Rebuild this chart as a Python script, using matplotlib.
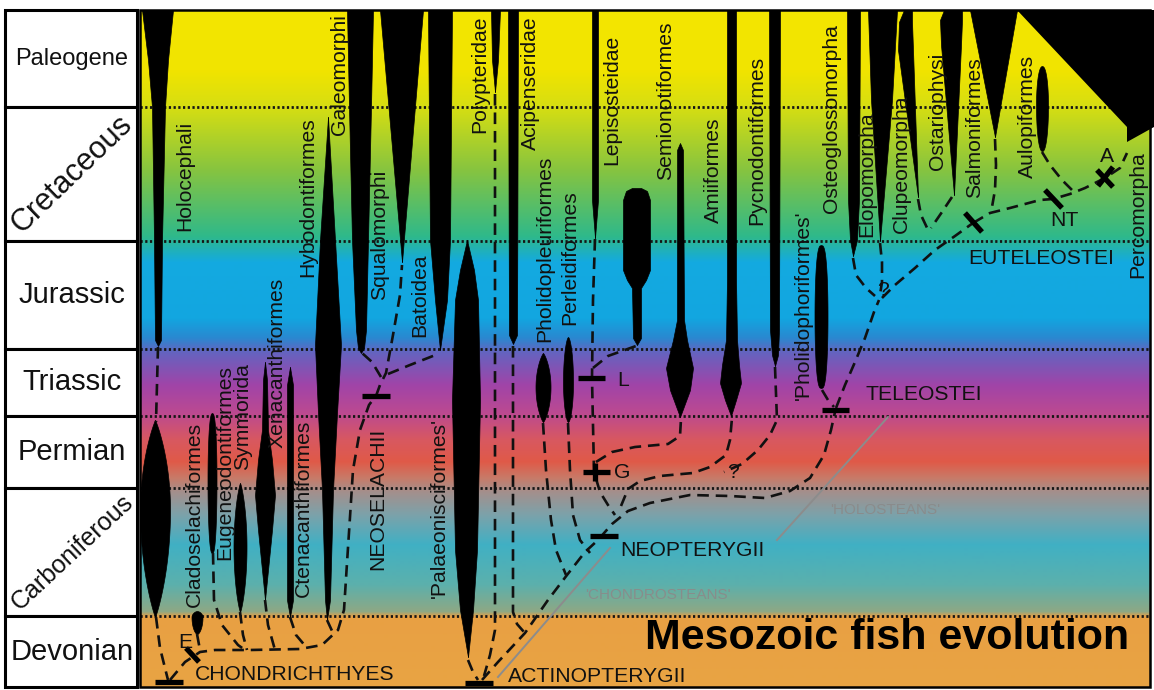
import numpy as np
import matplotlib.pyplot as plt
from matplotlib.colors import to_rgb

plt.rcParams['font.family'] = ['Liberation Sans', 'DejaVu Sans']

# ── frame (pixel-like units, y grows downwards) ─────────────────────────────
W, H = 1154, 690
X0, X1 = 140, 1150

periods = ['Paleogene', 'Cretaceous', 'Jurassic', 'Triassic',
           'Permian', 'Carboniferous', 'Devonian']
period_edges = [10, 107, 241, 349, 416, 488, 616, 687]
period_rot = [0, 44, 0, 0, 0, 43, 0]
period_size = [17, 22, 21, 21, 21, 18, 21]

bg_stop_y = [10, 70, 107, 170, 236, 262, 318, 338, 352, 385, 414, 440,
             462, 478, 492, 515, 545, 585, 612, 617, 687]
bg_stop_c = ['#f4e600', '#f1e400', '#d6de12', '#86c440', '#2fb98a',
             '#14aae0', '#12a6e0', '#2a88d0', '#6464c0', '#a044a8',
             '#bd4a90', '#d85860', '#e05a48', '#c87a68', '#a48f8c',
             '#7ca2aa', '#40b0c4', '#5cb0ac', '#8ea884', '#e8a043', '#e9a443']

# ── taxa drawn as columns / wedges: (y, x_left, x_right) profiles ───────────
holocephali_top = [(10, 142, 173), (60, 148, 168), (107, 152, 165),
                   (240, 154, 162), (340, 155, 161), (346, 158, 158)]
galeomorphi = [(10, 347, 373), (107, 349, 371), (240, 352, 368),
               (330, 356, 366), (348, 358, 364), (353, 361, 361)]
squalomorphi = [(10, 380, 423), (262, 402, 402)]
batoidea = [(10, 428, 452), (240, 430, 450), (300, 435, 447), (350, 440, 440)]
hybodontiformes = [(117, 328, 328), (240, 320, 335), (345, 315, 341),
                   (413, 318, 337), (490, 322, 333), (600, 325, 330),
                   (620, 327, 327)]
xenacanthiformes = [(362, 265, 265), (380, 263, 267), (430, 262, 268),
                    (460, 258, 272), (495, 255, 275), (530, 258, 272),
                    (570, 262, 268), (600, 265, 265)]
ctenacanthiformes = [(367, 290, 290), (385, 287, 293), (600, 287, 293),
                     (617, 290, 290)]
palaeonisciformes = [(240, 467, 467), (270, 460, 474), (300, 455, 478),
                     (400, 452, 480), (550, 455, 477), (610, 460, 473),
                     (657, 468, 468)]
polypteridae = [(10, 491, 500), (60, 492, 498), (92, 495, 495)]
acipenseridae = [(10, 508, 518), (335, 509, 517), (344, 513, 513)]
lepisosteidae_line = [(10, 592, 598), (200, 592, 598), (238, 595, 595)]
lepisosteidae_paddle = [(188, 632, 641), (191, 626, 647), (200, 623, 650),
                        (270, 623, 650), (280, 627, 646), (288, 632, 641),
                        (338, 633, 641), (345, 637, 637)]
semionotiformes = [(143, 680, 680), (150, 677, 683), (320, 677, 684),
                   (340, 673, 687), (368, 666, 693), (390, 670, 690),
                   (417, 680, 680)]
amiiformes = [(10, 727, 736), (280, 727, 736), (340, 726, 737),
              (365, 722, 739), (383, 720, 741), (400, 725, 736),
              (416, 731, 731)]
pycnodontiformes = [(10, 769, 780), (330, 770, 779), (355, 772, 778),
                    (366, 775, 775)]
osteoglossomorpha = [(10, 847, 860), (200, 848, 859), (240, 850, 857),
                     (256, 853, 853)]
elopomorpha = [(10, 868, 897), (100, 871, 892), (241, 880, 880)]
clupeomorpha = [(10, 904, 912), (22, 899, 912), (50, 898, 913),
                (197, 918, 918)]
ostariophysi = [(10, 944, 962), (20, 940, 962), (45, 941, 961),
                (195, 954, 954)]
salmoniformes = [(10, 970, 1017), (137, 995, 995)]
percomorpha = [(10, 1017, 1154), (127, 1127, 1154), (142, 1127, 1127)]

column_taxa = [holocephali_top, galeomorphi, squalomorphi, batoidea,
               hybodontiformes, xenacanthiformes, ctenacanthiformes,
               palaeonisciformes, polypteridae, acipenseridae,
               lepisosteidae_line, lepisosteidae_paddle, semionotiformes,
               amiiformes, pycnodontiformes, osteoglossomorpha, elopomorpha,
               clupeomorpha, ostariophysi, salmoniformes]

# ── taxa drawn as spindles: (x, y_top, y_widest, y_bottom, half width, roundness)
spindles = [(155, 420, 510, 617, 15, 0.9),     # Holocephali (Palaeozoic)
            (197, 611, 617, 634, 5.5, 0.6),     # Cladoselachiformes
            (212, 413, 480, 553, 4.5, 0.4),     # Eugeneodontiformes
            (240, 483, 547, 612, 6.5, 0.8),     # Symmorida
            (543, 353, 387, 422, 7.5, 0.8),     # Pholidopleuriformes
            (568, 337, 382, 422, 5, 0.6),       # Perleidiformes
            (821, 245, 316, 388, 6.5, 0.35),    # 'Pholidophoriformes'
            (1042, 66, 105, 151, 6, 0.45)]      # Aulopiformes

# ── dashed phylogeny ────────────────────────────────────────────────────────
dashed_paths = [
    [(158, 347), (156, 422)],
    [(156, 617), (160, 648), (168, 680)],
    [(170, 680), (185, 662), (200, 652), (215, 650), (250, 650), (300, 649),
     (322, 645), (338, 630), (344, 610), (347, 563), (350, 517), (353, 470),
     (360, 430), (369, 405), (375, 397)],
    [(197, 634), (200, 650)],
    [(213, 553), (214, 600), (222, 625), (238, 645), (245, 650)],
    [(240, 612), (243, 635), (247, 650)],
    [(265, 600), (268, 625), (275, 650)],
    [(290, 617), (296, 635), (307, 648)],
    [(327, 620), (333, 633)],
    [(376, 396), (380, 385), (386, 373), (393, 335), (400, 295), (402, 265)],
    [(381, 377), (372, 362), (362, 353)],
    [(388, 374), (410, 365), (438, 354)],
    [(468, 660), (473, 672), (478, 680)],
    [(495, 94), (495, 630), (490, 655), (484, 676)],
    [(513, 346), (513, 612), (517, 624), (524, 632)],
    [(482, 680), (498, 662), (525, 633), (548, 600), (567, 575), (585, 552),
     (598, 540), (612, 524), (628, 511), (650, 503), (690, 495), (730, 496),
     (765, 498), (790, 491), (810, 478), (824, 455), (831, 430), (835, 412)],
    [(543, 423), (546, 470), (551, 520), (556, 550), (566, 575)],
    [(568, 423), (570, 470), (573, 515), (580, 540), (590, 553)],
    [(595, 239), (593, 300), (592, 378), (594, 472), (600, 492), (608, 505),
     (615, 515)],
    [(593, 368), (608, 356), (636, 346)],
    [(596, 462), (612, 452), (635, 447), (668, 444), (680, 436), (681, 419)],
    [(621, 506), (628, 489), (640, 481), (660, 476), (693, 473), (710, 467),
     (726, 455), (730, 440), (732, 418)],
    [(775, 367), (777, 420), (770, 435), (758, 450), (742, 464), (724, 472)],
    [(822, 390), (828, 400), (834, 407)],
    [(836, 408), (845, 385), (855, 362), (865, 338), (874, 312), (879, 300)],
    [(853, 258), (856, 275), (866, 288), (875, 296)],
    [(880, 243), (882, 262), (882, 282), (880, 295)],
    [(882, 298), (895, 285), (915, 268), (935, 250), (955, 236), (973, 223)],
    [(918, 199), (921, 215), (929, 232)],
    [(952, 197), (942, 212), (931, 228)],
    [(973, 223), (990, 213), (1010, 208), (1040, 200), (1053, 199),
     (1070, 194), (1085, 188), (1105, 178), (1120, 168), (1127, 153)],
    [(995, 139), (996, 165), (995, 190), (992, 207)],
    [(1042, 152), (1050, 165), (1062, 180), (1072, 190)],
]

# ── clade bars ──────────────────────────────────────────────────────────────
bars = [(155, 682, 183, 682), (186, 648, 199, 662), (362, 396, 390, 396),
        (465, 683, 493, 683), (590, 536, 618, 536), (583, 472, 610, 472),
        (578, 378, 605, 378), (822, 410, 849, 410), (965, 213, 982, 232),
        (1045, 190, 1062, 208), (1097, 170, 1113, 187)]
bar_ticks = [(595, 463, 595, 481), (1113, 167, 1098, 186)]

# ── labels ──────────────────────────────────────────────────────────────────
taxon_labels = [('Holocephali', 185, 231), ('Cladoselachiformes', 194, 607),
                ('Eugeneodontiformes', 225, 560), ('Symmorida', 243, 470),
                ('Xenacanthiformes', 277, 448), ('Ctenacanthiformes', 303, 597),
                ('Hybodontiformes', 308, 277), ('Galeomorphi', 340, 135),
                ('Squalomorphi', 380, 300), ('Batoidea', 420, 337),
                ('NEOSELACHII', 378, 570), ("'Palaeonisciformes'", 439, 598),
                ('Polypteridae', 480, 133), ('Acipenseridae', 530, 150),
                ('Pholidopleuriformes', 545, 342), ('Perleidiformes', 570, 325),
                ('Lepisosteidae', 612, 165), ('Semionotiformes', 666, 180),
                ('Amiiformes', 713, 223), ('Pycnodontiformes', 757, 225),
                ("'Pholidophoriformes'", 803, 400),
                ('Osteoglossomorpha', 832, 213), ('Elopomorpha', 867, 237),
                ('Clupeomorpha', 901, 233), ('Ostariophysi', 937, 170),
                ('Salmoniformes', 975, 198), ('Aulopiformes', 1027, 178),
                ('Percomorpha', 1138, 278)]
clade_labels = [('CHONDRICHTHYES', 195, 675), ('ACTINOPTERYGII', 508, 677),
                ('NEOPTERYGII', 620, 551), ('TELEOSTEI', 865, 395),
                ('EUTELEOSTEI', 968, 258), ('NT', 1050, 221), ('A', 1100, 157),
                ('E', 178, 643), ('L', 617, 381), ('G', 614, 472),
                ('?', 877, 291), ('?', 727, 472)]
grade_labels = [("'CHONDROSTEANS'", 658, 595), ("'HOLOSTEANS'", 885, 510)]
grade_lines = [(498, 677, 610, 548), (777, 540, 888, 417)]


def fill_profile(ax, prof):
    p = np.array(prof, dtype=float)
    yy = np.linspace(p[0, 0], p[-1, 0], 300)
    ax.fill_betweenx(yy, np.interp(yy, p[:, 0], p[:, 1]),
                     np.interp(yy, p[:, 0], p[:, 2]), color='black', lw=0.5,
                     zorder=3)


def fill_spindle(ax, cx, y0, ym, y1, half, k):
    yy = np.linspace(y0, y1, 300)
    t = np.where(yy < ym, (ym - yy) / (ym - y0), (yy - ym) / (y1 - ym))
    hw = half * np.clip(1 - t ** 2, 0, 1) ** k
    ax.fill_betweenx(yy, cx - hw, cx + hw, color='black', lw=0.5, zorder=3)


fig = plt.figure(figsize=(W / 100, H / 100), dpi=100)
ax = fig.add_axes([0, 0, 1, 1])
ax.set_xlim(0, W)
ax.set_ylim(H, 0)
ax.axis('off')

# background gradient
ys = np.arange(period_edges[0], period_edges[-1] + 1)
rgb = np.array([to_rgb(c) for c in bg_stop_c])
grad = np.stack([np.interp(ys, bg_stop_y, rgb[:, i]) for i in range(3)], -1)
ax.imshow(grad[:, None, :], extent=(X0, X1, period_edges[-1], period_edges[0]),
          aspect='auto', interpolation='bilinear', zorder=0)

# period column
for i, name in enumerate(periods):
    top, bot = period_edges[i], period_edges[i + 1]
    ax.add_patch(plt.Rectangle((5, top), 132, bot - top, facecolor='white',
                               edgecolor='black', lw=2.2, zorder=1))
    ax.text(72, (top + bot) / 2, name, rotation=period_rot[i],
            ha='center', va='center', fontsize=period_size[i], color='#111111',
            rotation_mode='anchor', zorder=6)

ax.hlines(period_edges[1:-1], X0, X1, colors='#151515', lw=2.0,
          linestyles=(0, (0.8, 0.9)), zorder=2)
ax.add_patch(plt.Rectangle((X0, period_edges[0]), X1 - X0,
                           period_edges[-1] - period_edges[0],
                           facecolor='none', edgecolor='black', lw=1.8, zorder=7))

for prof in column_taxa:
    fill_profile(ax, prof)
pc = np.array(percomorpha, dtype=float)
ax.fill(np.r_[pc[:, 1], pc[::-1, 2]], np.r_[pc[:, 0], pc[::-1, 0]],
        color='black', lw=0, zorder=3)
for s in spindles:
    fill_spindle(ax, *s)

for path in dashed_paths:
    p = np.array(path)
    ax.plot(p[:, 0], p[:, 1], color='#111111', lw=1.9,
            linestyle=(0, (4.4, 2.6)), zorder=4)

for x0, y0, x1, y1 in bars + bar_ticks:
    ax.plot([x0, x1], [y0, y1], color='black', lw=3.8,
            solid_capstyle='butt', zorder=5)

for x0, y0, x1, y1 in grade_lines:
    ax.plot([x0, x1], [y0, y1], color='#8c8c8c', lw=1.4, zorder=4)

for name, x, y in taxon_labels:
    ax.text(x, y, name, rotation=90, ha='center', va='bottom',
            fontsize=15.2, color='#111111', zorder=6)
for name, x, y in clade_labels:
    ax.text(x, y, name, ha='left', va='center', fontsize=15.2,
            color='#111111', zorder=6)
for name, x, y in grade_labels:
    ax.text(x, y, name, ha='center', va='center', fontsize=11,
            color='#8a8a8a', alpha=0.9, zorder=6)

ax.text(645, 638, 'Mesozoic fish evolution', ha='left', va='center',
        fontsize=31, fontweight='bold', color='black', zorder=6)

fig.savefig('out.png', dpi=100)
